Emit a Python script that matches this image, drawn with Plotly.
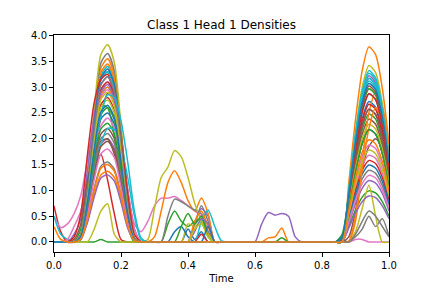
import plotly.graph_objects as go

time = [0.00, 0.02, 0.04, 0.06, 0.08, 0.10, 0.12, 0.14, 0.16, 0.18,
        0.20, 0.22, 0.24, 0.26, 0.28, 0.30, 0.32, 0.34, 0.36, 0.38,
        0.40, 0.42, 0.44, 0.46, 0.48, 0.50, 0.52, 0.54, 0.56, 0.58,
        0.60, 0.62, 0.64, 0.66, 0.68, 0.70, 0.72, 0.74, 0.76, 0.78,
        0.80, 0.82, 0.84, 0.86, 0.88, 0.90, 0.92, 0.94, 0.96, 0.98, 1.00]

d00 = [0,0,0,0, 0.13,0.96,2.21,3.14,3.30,3.00,1.95,0.69,0.07,0,
       0,0,0,0,0,0,0,0,0,0,0,0,
       0,0,0,0,0,0,0,0,0,0,0,0,0,0,0,0,0,
       0,0.87,1.80,2.52,2.87,2.76,2.26,1.45]
d01 = [0,0,0,0, 0.14,1.03,2.38,3.37,3.55,3.23,2.09,0.75,0.07,0,
       0,0,0,0,0,0,0,0,0,0,0,0,
       0,0,0,0,0,0,0,0,0,0,0,0,0,0,0,0,0,
       0,1.15,2.37,3.32,3.78,3.63,2.98,1.91]
d02 = [0,0,0,0, 0.25,1.20,2.20,2.65,2.60,2.05,1.10,0.30,0,0,
       0,0,0,0,0,0,0,0,0,0,0,0,
       0,0,0,0,0,0,0,0,0,0,0,0,0,0,0,0,0,
       0,0.75,1.55,2.18,2.48,2.38,1.95,1.25]
d03 = [0.70,0.20,0,0, 0.15,0.70,1.35,1.70,1.20,0.55,0.05,0,0,0,
       0,0,0,0,0,0,0,0,0,0,0,0,
       0,0,0,0,0,0,0,0,0,0,0,0,0,0,0,0,0,
       0,0.66,1.36,1.91,2.18,2.09,1.72,1.10]
d04 = [0,0,0,0, 0.08,0.58,1.34,1.90,2.00,1.82,1.18,0.42,0.04,0,
       0,0,0,0,0,0,0,0.35,0.65,0.50,0,0,
       0,0,0,0,0,0,0,0,0,0,0,0,0,0,0,0,0,
       0,0.98,2.02,2.83,3.22,3.09,2.54,1.63]
d05 = [0,0,0,0, 0.09,0.64,1.47,2.09,2.20,2.00,1.30,0.46,0.04,0,
       0,0,0,0,0,0,0,0,0,0,0,0,
       0,0,0,0,0,0,0,0,0,0,0,0,0,0,0,0,0,
       0,0.10,0.60,1.40,1.85,2.00,1.80,1.30]
d06 = [0.50,0.28,0.35,0.55, 0.90,1.60,2.40,2.95,3.10,2.90,2.05,1.00,0.35,0.20,
       0.40,0.70,0.85,0.85,0.88,0.80,0.70,0.60,0.50,0.20,0,0,
       0,0,0,0,0,0,0,0,0,0,0,0,0,0,0,0,0,
       0,0.51,1.05,1.48,1.68,1.62,1.33,0.85]
d07 = [0,0,0,0, 0.15,1.06,2.45,3.47,3.65,3.32,2.15,0.77,0.07,0,
       0,0,0,0,0,0,0,0,0,0,0,0,
       0,0,0,0,0,0,0,0,0,0,0,0,0,0,0,0,0,
       0,0.78,1.61,2.26,2.57,2.47,2.03,1.30]
d08 = [0,0,0,0, 0.15,1.11,2.56,3.63,3.82,3.48,2.25,0.80,0.08,0,
       0,0,0,0,0,0,0,0,0,0,0,0,
       0,0,0,0,0,0,0,0,0,0,0,0,0,0,0,0,0,
       0,1.04,2.14,3.00,3.42,3.28,2.69,1.73]
d09 = [0.50,0.15,0.05,0, 0.14,0.99,2.28,3.23,3.40,3.09,2.01,0.71,0.07,0,
       0,0,0,0,0,0,0,0,0,0,0,0,
       0,0,0,0,0,0,0,0,0,0,0,0,0,0,0,0,0,
       0.08,1.01,2.08,2.91,3.32,3.18,2.61,1.68]
d10 = [0,0,0,0, 0.10,0.73,1.68,2.38,2.50,2.28,1.48,0.53,0.05,0,
       0,0,0,0,0,0,0.25,0.05,0.20,0,0,0,
       0,0,0,0,0,0,0,0,0,0,0,0,0,0,0,0,0,
       0,0.83,1.71,2.39,2.72,2.61,2.15,1.38]
d11 = [0,0,0,0, 0.05,0.40,0.92,1.30,1.37,1.25,0.81,0.29,0.03,0,
       0,0.10,0.60,1.15,1.38,1.15,0.80,0.60,0.85,0.55,0,0,
       0,0,0,0,0,0,0,0,0,0,0,0,0,0,0,0,0,
       0,0.90,1.86,2.61,2.97,2.85,2.34,1.50]
d12 = [0,0,0,0, 0,0,0,0.05,0,0,0,0,0,0,
       0,0,0,0.35,0.60,0.40,0.30,0.40,0.45,0.15,0,0,
       0,0,0,0,0,0,0,0,0,0,0,0,0,0,0,0,0,
       0,0.30,0.62,0.87,0.99,0.95,0.78,0.50]
d13 = [0,0,0,0, 0.12,0.90,2.08,2.95,3.10,2.82,1.83,0.65,0.06,0,
       0,0,0,0,0,0,0,0,0,0,0,0,
       0,0,0,0,0,0,0,0,0,0,0,0,0,0,0,0,0,
       0,0.48,0.99,1.39,1.58,1.52,1.25,0.80]
d14 = [0,0,0,0, 0.05,0.38,0.87,1.24,1.30,1.18,0.77,0.27,0.03,0,
       0,0,0,0,0,0,0,0,0,0,0,0,
       0,0,0,0,0,0.35,0.57,0.52,0.55,0.50,0.10,0,0,0,0,0,0,
       0,0.96,1.98,2.78,3.17,3.04,2.50,1.60]
d15 = [0,0,0,0, 0.05,0.55,1.50,2.45,2.88,2.80,2.10,1.00,0.25,0,
       0,0,0,0,0,0,0,0,0,0,0,0,
       0,0,0,0,0,0,0,0,0,0,0,0,0,0,0,0,0,
       0,0.72,1.49,2.09,2.38,2.28,1.87,1.20]
d16 = [0,0,0.05,0.30, 0.60,1.20,1.85,2.25,2.40,2.20,1.70,1.00,0.25,0,
       0,0,0,0,0,0,0,0,0,0,0,0,
       0,0,0,0,0,0,0,0,0,0,0,0,0,0,0,0,0,
       0,0,0.05,0.05,0,0,0,0]
d17 = [0,0,0,0, 0.06,0.45,1.04,1.47,1.55,1.41,0.91,0.33,0.03,0,
       0,0,0,0.50,0.83,0.78,0.70,0.62,0.55,0.20,0,0,
       0,0,0,0,0,0,0,0,0,0,0,0,0,0,0,0,0,
       0,0,0.10,0.25,0.50,0.30,0.45,0.10]
d18 = [0,0,0,0, 0,0,0.25,0.60,0.74,0.15,0,0,0,0,
       0.05,0.65,1.25,1.45,1.77,1.65,1.25,0.75,0.40,0.15,0,0,
       0,0,0,0,0,0,0,0,0,0,0,0,0,0,0,0,0,
       0,0,0.20,0.65,1.10,0.50,0,0]
d19 = [0,0,0,0, 0.13,0.96,2.21,3.14,3.30,3.00,1.95,0.69,0.07,0,
       0,0,0,0,0,0,0,0,0.40,0.62,0.30,0.02,
       0,0,0,0,0,0,0,0,0,0,0,0,0,0,0,0,0,
       0.10,0.95,1.95,2.74,3.12,2.99,2.46,1.58]
d20 = [0,0,0,0, 0.12,0.87,2.01,2.85,3.00,2.73,1.77,0.63,0.06,0,
       0,0,0,0,0,0,0,0,0,0,0,0,
       0,0,0,0,0,0,0,0,0,0,0,0,0,0,0,0,0,
       0,0.66,1.36,1.91,2.18,2.09,1.72,1.10]
d21 = [0,0,0,0, 0.14,1.00,2.31,3.28,3.45,3.14,2.04,0.72,0.07,0,
       0,0,0,0,0,0,0,0,0,0,0,0,
       0,0,0,0,0,0,0.08,0.10,0.27,0,0,0,0,0,0,0,0,
       0,0.02,0.50,1.60,2.50,2.90,2.60,1.90]
d22 = [0,0,0,0, 0.09,0.67,1.54,2.19,2.30,2.09,1.36,0.48,0.05,0,
       0,0,0,0,0,0,0,0,0,0,0,0,
       0,0,0,0,0,0,0,0,0.08,0,0,0,0,0,0,0,0,
       0.15,0.90,1.86,2.61,2.97,2.85,2.34,1.50]
d23 = [0,0,0,0, 0.11,0.81,1.88,2.66,2.80,2.55,1.65,0.59,0.06,0,
       0,0,0,0,0,0,0,0,0,0,0,0,
       0,0,0,0,0,0,0,0,0,0,0,0,0,0,0,0,0,
       0,0.81,1.67,2.35,2.67,2.57,2.11,1.35]
d24 = [0,0,0,0.15, 0.45,1.40,2.45,3.05,3.20,2.85,1.85,0.65,0.06,0,
       0,0,0,0,0,0,0,0,0,0,0,0,
       0,0,0,0,0,0,0,0,0,0,0,0,0,0,0,0,0,
       0,0.36,0.74,1.04,1.19,1.14,0.94,0.60]
d25 = [0,0,0,0.05, 0.35,1.20,1.70,1.95,2.00,1.70,1.15,0.55,0.08,0,
       0,0,0,0,0,0,0,0,0,0,0,0,
       0,0,0,0,0,0,0,0,0,0,0,0,0,0,0,0,0,
       0,0.78,1.61,2.26,2.57,2.47,2.03,1.30]
d26 = [0,0,0,0, 0.12,0.86,1.98,2.80,2.95,2.68,1.74,0.62,0.06,0,
       0,0,0,0,0,0,0,0,0,0,0,0,
       0,0,0,0,0,0,0,0,0,0,0,0,0,0,0,0,0,
       0,0.57,1.18,1.65,1.88,1.81,1.48,0.95]
d27 = [0,0,0,0, 0.08,0.61,1.41,2.00,2.10,1.91,1.24,0.44,0.04,0,
       0,0,0,0,0,0,0,0.35,0.70,0.40,0,0,
       0,0,0,0,0,0,0,0,0,0,0,0,0,0,0,0,0,
       0,0.42,0.87,1.22,1.39,1.33,1.09,0.70]
d28 = [0,0,0,0, 0.11,0.80,1.84,2.61,2.75,2.50,1.62,0.58,0.06,0,
       0,0,0,0,0,0,0.35,0.30,0.40,0.10,0,0,
       0,0,0,0,0,0,0,0,0,0,0,0,0,0,0,0,0,
       0,0.69,1.43,2.00,2.28,2.19,1.79,1.15]
d29 = [0,0,0,0, 0.08,0.60,1.35,1.90,2.20,2.18,1.85,1.25,0.50,0.05,
       0,0,0,0,0,0,0,0,0,0,0,0,
       0,0,0,0,0,0,0,0,0,0,0,0,0,0,0,0,0,
       0,0.99,2.05,2.87,3.27,3.14,2.57,1.65]
d30 = [0,0,0,0, 0.13,0.97,2.24,3.18,3.35,3.05,1.98,0.70,0.07,0,
       0,0,0,0,0.20,0.30,0.10,0,0,0,0,0,
       0,0,0,0,0,0,0,0,0,0,0,0,0,0,0,0,0,
       0,0.45,0.93,1.31,1.49,1.43,1.17,0.75]
d31 = [0,0,0,0, 0.12,0.87,2.01,2.85,3.00,2.73,1.77,0.63,0.06,0,
       0,0,0,0,0,0,0,0.40,0.60,0.30,0,0,
       0,0,0,0,0,0,0,0,0,0,0,0,0,0,0,0,0,
       0,0,0.40,1.40,2.20,2.60,2.35,1.70]
d32 = [0,0,0,0, 0.10,0.75,1.74,2.47,2.60,2.37,1.53,0.55,0.05,0,
       0,0,0,0,0,0.30,0.55,0.35,0.50,0.10,0,0,
       0,0,0,0,0,0,0,0,0,0,0,0,0,0,0,0,0,
       0.05,0.66,1.36,1.91,2.18,2.09,1.72,1.10]
d33 = [0,0,0,0.10, 0.55,1.70,2.70,3.15,3.25,2.80,1.95,0.95,0.15,0,
       0,0,0,0,0,0,0,0,0.15,0,0,0,
       0,0,0,0,0,0,0,0,0,0,0,0,0,0,0,0,0,
       0,0.87,1.80,2.52,2.87,2.76,2.26,1.45]
d34 = [0,0,0,0, 0.12,0.88,2.04,2.90,3.05,2.78,1.80,0.64,0.06,0,
       0,0,0,0,0,0,0,0.20,0.45,0.35,0,0,
       0,0,0,0,0,0,0,0,0,0,0,0,0,0,0,0,0,
       0,0.27,0.56,0.78,0.89,0.86,0.70,0.45]
d35 = [0,0,0,0, 0.08,0.57,1.31,1.85,1.95,1.77,1.15,0.41,0.04,0,
       0,0,0,0,0,0,0,0,0,0,0,0,
       0,0,0,0,0,0,0,0,0,0,0,0,0,0,0,0,0,
       0.05,0.92,1.89,2.65,3.02,2.90,2.38,1.53]
d36 = [0,0,0,0, 0.07,0.52,1.21,1.71,1.80,1.64,1.06,0.38,0.04,0,
       0,0,0,0,0,0,0,0,0,0,0,0,
       0,0,0,0,0,0,0,0,0,0,0,0,0,0,0,0,0,
       0,0.39,0.81,1.13,1.29,1.24,1.01,0.65]
d37 = [0,0,0,0, 0.13,0.93,2.14,3.04,3.20,2.91,1.89,0.67,0.06,0,
       0,0,0,0,0,0,0,0,0,0,0,0,
       0,0,0,0,0,0,0,0,0,0,0,0,0,0,0,0,0,
       0,0,0.15,0.40,0.60,0.50,0.30,0.10]
d38 = [0,0,0,0, 0.12,0.84,1.94,2.76,2.90,2.64,1.71,0.61,0.06,0,
       0,0,0,0,0,0,0,0.25,0.35,0.10,0,0,
       0,0,0,0,0,0,0,0,0,0,0,0,0,0,0,0,0,
       0,0.54,1.12,1.57,1.78,1.71,1.40,0.90]
d39 = [0,0,0,0, 0.10,0.80,1.75,2.45,2.85,2.80,2.35,1.55,0.60,0.08,
       0,0,0,0,0,0,0,0,0,0,0,0,
       0,0,0,0,0,0,0,0,0,0,0,0,0,0,0,0,0,
       0,0.96,1.98,2.78,3.17,3.04,2.50,1.60]
d40 = [0,0,0,0, 0.11,0.77,1.78,2.52,2.65,2.41,1.56,0.56,0.05,0,
       0,0,0,0,0,0,0,0,0,0.30,0,0,
       0,0,0,0,0,0,0,0,0,0,0,0,0,0,0,0,0,
       0.10,0.93,1.92,2.70,3.07,2.95,2.42,1.55]
d41 = [0.30,0.05,0,0, 0.06,0.44,1.01,1.43,1.50,1.37,0.89,0.32,0.03,0,
       0,0,0,0,0,0,0,0,0,0,0,0,
       0,0,0,0,0,0,0,0,0,0,0,0,0,0,0,0,0,
       0,0.60,1.24,1.74,1.98,1.90,1.56,1.00]

series = [d00, d01, d02, d03, d04, d05, d06, d07, d08, d09,
          d10, d11, d12, d13, d14, d15, d16, d17, d18, d19,
          d20, d21, d22, d23, d24, d25, d26, d27, d28, d29,
          d30, d31, d32, d33, d34, d35, d36, d37, d38, d39,
          d40, d41]

x_ticks = [0.0, 0.2, 0.4, 0.6, 0.8, 1.0]
x_tick_labels = ["0.0", "0.2", "0.4", "0.6", "0.8", "1.0"]
y_ticks = [0.0, 0.5, 1.0, 1.5, 2.0, 2.5, 3.0, 3.5, 4.0]
y_tick_labels = ["0.0", "0.5", "1.0", "1.5", "2.0", "2.5", "3.0", "3.5", "4.0"]

colors = ["#1f77b4", "#ff7f0e", "#2ca02c", "#d62728", "#9467bd",
          "#8c564b", "#e377c2", "#7f7f7f", "#bcbd22", "#17becf"]

fig = go.Figure()
for i, ys in enumerate(series):
    assert len(ys) == len(time), (i, len(ys))
    fig.add_trace(go.Scatter(x=time, y=ys, mode="lines",
                             line=dict(color=colors[i % 10], width=1.5,
                                       shape="spline", smoothing=0.7),
                             hoverinfo="skip", showlegend=False))

axis_common = dict(showline=True, mirror=True, linecolor="black", linewidth=1,
                   ticks="outside", ticklen=4, tickwidth=1, tickcolor="black",
                   showgrid=False, zeroline=False, automargin=False,
                   tickfont=dict(family="DejaVu Sans", size=10, color="black"))

fig.update_xaxes(range=[0, 1], tickvals=x_ticks, ticktext=x_tick_labels,
                 title=dict(text="Time", standoff=4,
                            font=dict(family="DejaVu Sans", size=10, color="black")),
                 **axis_common)
fig.update_yaxes(range=[-0.194, 4.01], tickvals=y_ticks, ticktext=y_tick_labels,
                 **axis_common)

fig.update_layout(
    width=432, height=288,
    margin=dict(l=54, r=43, t=35, b=36, pad=0),
    plot_bgcolor="white", paper_bgcolor="white",
    font=dict(family="DejaVu Sans", size=10, color="black"),
    showlegend=False,
    title=dict(text="Class 1 Head 1 Densities", xref="paper", x=0.5, xanchor="center",
               yref="container", y=1 - 25 / 288, yanchor="middle",
               font=dict(family="DejaVu Sans", size=12, color="black")),
)

fig.write_html("out.html", config={"displayModeBar": False},
               post_script="document.body.style.margin='0px';")
